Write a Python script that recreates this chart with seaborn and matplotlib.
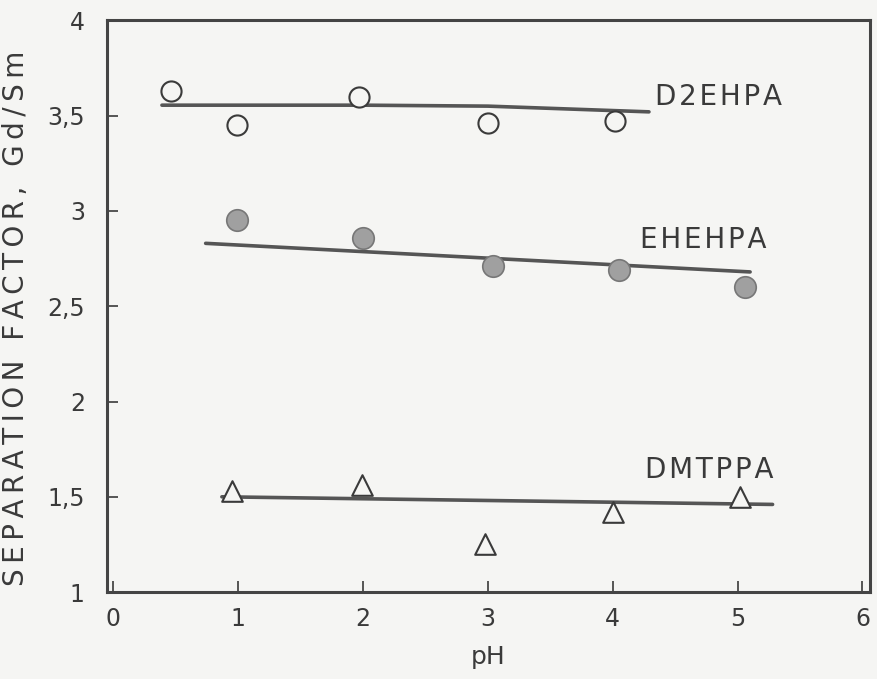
import matplotlib
matplotlib.use("Agg")
import matplotlib.pyplot as plt
import seaborn as sns
import pandas as pd

# ---- data ----
d2ehpa_ph = [0.46, 0.99, 1.97, 3.00, 4.02]
d2ehpa_sf = [3.63, 3.45, 3.60, 3.46, 3.47]
d2ehpa_fit_ph = [0.39, 1.0, 2.0, 3.0, 4.29]
d2ehpa_fit_sf = [3.555, 3.555, 3.555, 3.55, 3.52]

ehehpa_ph = [0.99, 2.00, 3.04, 4.05, 5.06]
ehehpa_sf = [2.95, 2.86, 2.71, 2.69, 2.60]
ehehpa_fit_ph = [0.74, 5.10]
ehehpa_fit_sf = [2.83, 2.68]

dmtppa_ph = [0.95, 1.99, 2.98, 4.00, 5.02]
dmtppa_sf = [1.53, 1.56, 1.25, 1.42, 1.50]
dmtppa_fit_ph = [0.87, 5.28]
dmtppa_fit_sf = [1.50, 1.46]

x_ticks = [0, 1, 2, 3, 4, 5, 6]
y_ticks = [1, 1.5, 2, 2.5, 3, 3.5, 4]
y_tick_labels = ["1", "1,5", "2", "2,5", "3", "3,5", "4"]

series_names = ["D2EHPA", "EHEHPA", "DMTPPA"]
label_pos_ph = [4.34, 4.22, 4.26]
label_pos_sf = [3.60, 2.85, 1.64]

x_label = "pH"
y_label = "SEPARATION FACTOR, Gd/Sm"


def spaced(s, sp):
    return sp.join(list(s))


# ---- styling ----
sns.set_theme(style="white")
plt.rcParams["font.family"] = ["DejaVu Sans"]
paper = "#f5f5f3"
ink = "#3a3a3a"

fig = plt.figure(figsize=(8.77, 6.79), dpi=100, facecolor=paper)
ax = fig.add_axes([0.122, 0.128, 0.870, 0.842], facecolor=paper)

pts = pd.DataFrame({
    "ph": d2ehpa_ph + ehehpa_ph + dmtppa_ph,
    "sf": d2ehpa_sf + ehehpa_sf + dmtppa_sf,
    "s": ["D2EHPA"] * 5 + ["EHEHPA"] * 5 + ["DMTPPA"] * 5,
})
fits = [
    (d2ehpa_fit_ph, d2ehpa_fit_sf),
    (ehehpa_fit_ph, ehehpa_fit_sf),
    (dmtppa_fit_ph, dmtppa_fit_sf),
]
for fx, fy in fits:
    sns.lineplot(x=fx, y=fy, ax=ax, color="#555555", lw=2.6, zorder=2,
                 estimator=None, sort=False)

sub = pts[pts.s == "D2EHPA"]
sns.scatterplot(data=sub, x="ph", y="sf", ax=ax, marker="o", s=210,
                facecolor=paper, edgecolor=ink, linewidth=1.5, zorder=3)
sub = pts[pts.s == "EHEHPA"]
sns.scatterplot(data=sub, x="ph", y="sf", ax=ax, marker="o", s=240,
                color="#a0a0a0", edgecolor="#777777", linewidth=1.2, zorder=3)
sub = pts[pts.s == "DMTPPA"]
sns.scatterplot(data=sub, x="ph", y="sf", ax=ax, marker="^", s=220,
                facecolor=paper, edgecolor=ink, linewidth=1.5, zorder=3)

for name, lx, ly in zip(series_names, label_pos_ph, label_pos_sf):
    ax.text(lx, ly, spaced(name, "\u200a"), fontsize=20, color=ink,
            ha="left", va="center")

ax.set_xlim(-0.05, 6.06)
ax.set_ylim(1, 4)
ax.set_xticks(x_ticks)
ax.set_xticklabels([str(t) for t in x_ticks])
ax.set_yticks(y_ticks)
ax.set_yticklabels(y_tick_labels)
ax.tick_params(axis="both", direction="in", length=8, width=1.2, colors=ink,
               labelsize=17, labelcolor=ink)
ax.tick_params(axis="y", pad=16)
ax.tick_params(axis="x", pad=11, top=False, bottom=True)
ax.tick_params(axis="y", left=True, right=False)
for sp in ax.spines.values():
    sp.set_color("#444444")
    sp.set_linewidth(2.2)

ax.set_xlabel(x_label, fontsize=18, color=ink, labelpad=10)
ax.set_ylabel(spaced(y_label, "\u2009"), fontsize=20, color=ink)
ax.yaxis.set_label_coords(-0.101, 0.479)

fig.savefig("out.png", dpi=100, facecolor=paper)
